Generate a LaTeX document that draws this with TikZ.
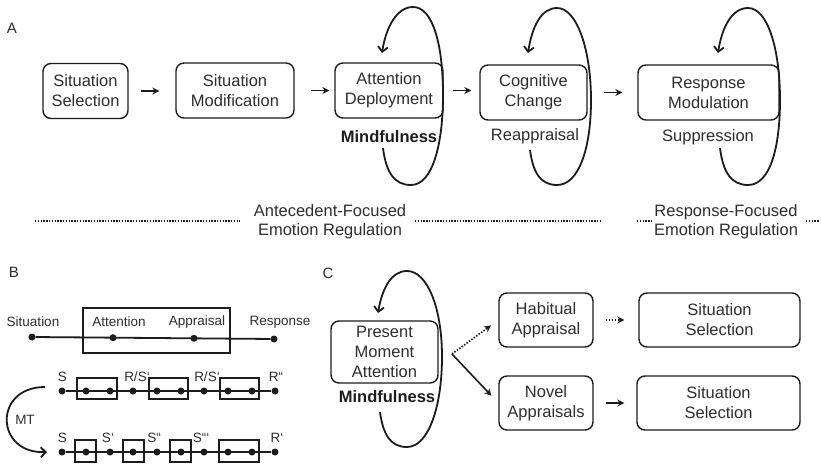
\documentclass[tikz,border=0pt]{standalone}
\usepackage{fontspec}
\setmainfont{Liberation Sans}
\usetikzlibrary{arrows.meta}
\definecolor{ink}{HTML}{1C1C1C}
\definecolor{txt}{HTML}{2E2E2E}

\begin{document}
\begin{tikzpicture}[x=1pt,y=-1pt,
  stage/.style={draw=ink, line width=1.4pt, rounded corners=8pt, align=center, text=txt,
    font=\fontsize{16.5}{20}\selectfont, inner sep=0pt, minimum height=55pt},
  lbl/.style={text=txt, font=\fontsize{16.5}{19}\selectfont, align=center, inner sep=0pt},
  mind/.style={text=ink, font=\fontsize{16.5}{19}\selectfont\bfseries, inner sep=0pt},
  panellbl/.style={text=txt, font=\fontsize{15}{16}\selectfont, inner sep=0pt},
  blabel/.style={text=txt, font=\fontsize{13.5}{15}\selectfont, inner sep=0pt},
  fwd/.style={draw=ink, line width=1.6pt, -{Stealth[length=7pt,width=7pt]}},
  selfloop/.style={draw=ink, line width=1.8pt, -{Straight Barb[length=5pt,width=10pt]}},
  dotline/.style={draw=ink, line width=1.5pt, dash pattern=on 1.3pt off 1.5pt},
  dot/.style={circle, fill=ink, inner sep=0pt, minimum size=7pt},
  boxframe/.style={draw=ink, line width=1.4pt, inner sep=0pt},
  track/.style={draw=ink, line width=1.8pt},
]
\fill[white] (0,0) rectangle (821,470);
\useasboundingbox (0,0) rectangle (821,470);

% ---------------- Panel A: process model ----------------
\node[panellbl] (pA) at (12,28) {A};
\node[stage, minimum width=85pt]  (ss) at (85.5,91)   {Situation\\Selection};
\node[stage, minimum width=118pt] (sm) at (235,90.5)  {Situation\\Modification};
\node[stage, minimum width=108pt] (ad) at (389,90.5)  {Attention\\Deployment};
\node[stage, minimum width=107pt] (cc) at (533.5,92.5) {Cognitive\\Change};
\node[stage, minimum width=141pt] (rm) at (708.5,92.5) {Response\\Modulation};

\draw[fwd, shorten <=12pt, shorten >=16pt] (ss.east) -- (ss.east -| sm.west);
\draw[fwd, shorten <=16pt, shorten >=5pt]  (sm.east) -- (sm.east -| ad.west);
\draw[fwd, shorten <=9pt,  shorten >=8pt]  (ad.east) -- (ad.east -| cc.west);
\draw[fwd, shorten <=16pt, shorten >=15pt] (cc.east) -- (cc.east -| rm.west);

\node[mind] (mf1) at (389,137) {Mindfulness};
\node[lbl]  (reap) at (535,136) {Reappraisal};
\node[lbl]  (supp) at (708,137) {Suppression};

% feedback loops around the strategies
\coordinate (l1s) at (383,148); \coordinate (l1e) at (382,53);
\draw[selfloop] (l1s) .. controls +(3,24) and +(-17,0) .. (411,185)
  .. controls +(22,0) and +(0,48) .. (443,95)
  .. controls +(0,-50) and +(20,0) .. (413,7)
  .. controls +(-16,0) and +(4,-26) .. (l1e);
\coordinate (l2s) at (530,150); \coordinate (l2e) at (528,53);
\draw[selfloop] (l2s) .. controls +(3,22) and +(-17,0) .. (557,185)
  .. controls +(22,0) and +(0,48) .. (591,100)
  .. controls +(0,-50) and +(20,0) .. (557,8)
  .. controls +(-16,0) and +(4,-26) .. (l2e);
\coordinate (l3s) at (720,148); \coordinate (l3e) at (718,53);
\draw[selfloop] (l3s) .. controls +(3,24) and +(-17,0) .. (748,185)
  .. controls +(22,0) and +(0,48) .. (780,100)
  .. controls +(0,-50) and +(20,0) .. (748,8)
  .. controls +(-16,0) and +(4,-26) .. (l3e);

% regulation families
\node[lbl] (afer) at (330,222) {Antecedent-Focused\\Emotion Regulation};
\node[lbl] (rfer) at (726,222) {Response-Focused\\Emotion Regulation};
\coordinate (d1a) at (35,221);  \coordinate (d1b) at (240,221);
\coordinate (d2a) at (415,221); \coordinate (d2b) at (600,221);
\coordinate (d3a) at (637,221); \coordinate (d3b) at (653,221);
\coordinate (d4a) at (806,221); \coordinate (d4b) at (819,221);
\draw[dotline] (d1a) -- (d1b);
\draw[dotline] (d2a) -- (d2b);
\draw[dotline] (d3a) -- (d3b);
\draw[dotline] (d4a) -- (d4b);

% ---------------- Panel B: sequences ----------------
\node[panellbl] (pB) at (14,272) {B};
\node[blabel] (tsit) at (33,322)  {Situation};
\node[blabel] (tatt) at (119,322) {Attention};
\node[blabel] (tapp) at (197,322) {Appraisal};
\node[blabel] (tres) at (280,322) {Response};
\node[dot] (b1) at (32,337) {};
\node[dot] (b2) at (113,337.7) {};
\node[dot] (b3) at (194,338.3) {};
\node[dot] (b4) at (274,339) {};
\draw[track] (b1) -- (b4);
\node[boxframe, minimum width=147pt, minimum height=45pt] (win) at (156.5,330.5) {};

% habitual chain
\foreach \i/\x in {1/62,2/86,3/110,4/133,5/157,6/181,7/204,8/228,9/252,10/275}
  \node[dot] (r\i) at (\x,391) {};
\draw[track] (r1) -- (r10);
\node[boxframe, minimum width=40pt, minimum height=21pt] (w1) at (97,388.5) {};
\node[boxframe, minimum width=39pt, minimum height=21pt] (w2) at (168.5,388.5) {};
\node[boxframe, minimum width=39pt, minimum height=21pt] (w3) at (239.5,388.5) {};
\node[blabel] (ra) at (62.5,377) {S};
\node[blabel] (rb) at (137,377) {R/S‘};
\node[blabel] (rc) at (207,377) {R/S‘};
\node[blabel] (rd) at (276,377) {R“};

% chain after training
\foreach \i/\x in {1/62,2/86,3/110,4/133,5/157,6/181,7/204,8/228,9/252,10/275}
  \node[dot] (q\i) at (\x,452) {};
\draw[track] (q1) -- (q10);
\node[boxframe, minimum width=21pt, minimum height=22pt] (v1) at (85.5,451) {};
\node[boxframe, minimum width=21pt, minimum height=22pt] (v2) at (133.5,451) {};
\node[boxframe, minimum width=21pt, minimum height=22pt] (v3) at (180.5,451) {};
\node[boxframe, minimum width=40pt, minimum height=22pt] (v4) at (239,451) {};
\node[blabel] (qa) at (62.5,438) {S};
\node[blabel] (qb) at (108,438) {S‘};
\node[blabel] (qc) at (154,438) {S“};
\node[blabel] (qd) at (201,438) {S“‘};
\node[blabel] (qe) at (277,438) {R‘};

\coordinate (mt1) at (45,387); \coordinate (mt2) at (47,452);
\draw[selfloop] (mt1) .. controls +(-52,0) and +(-52,2) .. (mt2);
\node[blabel] (mt) at (25,420) {MT};

% ---------------- Panel C: mindfulness pathway ----------------
\node[panellbl] (pC) at (328,273) {C};
\node[stage, minimum width=107pt, minimum height=62pt] (pma) at (384.5,352) {Present\\Moment\\Attention};
\node[mind] (mf2) at (387,397) {Mindfulness};
\coordinate (l4s) at (380,412); \coordinate (l4e) at (378,313);
\draw[selfloop] (l4s) .. controls +(3,22) and +(-17,0) .. (407,447)
  .. controls +(22,0) and +(0,48) .. (442,357)
  .. controls +(0,-50) and +(20,0) .. (407,271)
  .. controls +(-16,0) and +(4,-24) .. (l4e);

\node[stage, minimum width=94pt,  minimum height=54pt] (hab)  at (546,320)   {Habitual\\Appraisal};
\node[stage, minimum width=161pt, minimum height=54pt] (sel1) at (719.5,320) {Situation\\Selection};
\node[stage, minimum width=94pt,  minimum height=54pt] (nov)  at (546,403)   {Novel\\Appraisals};
\node[stage, minimum width=163pt, minimum height=54pt] (sel2) at (718.5,403) {Situation\\Selection};

\coordinate (fork) at (452,354);
\draw[fwd, dash pattern=on 1.5pt off 1.5pt, shorten >=9pt] (fork) -- (hab.west);
\draw[fwd, shorten >=10pt] (fork) -- (nov.west);
\draw[fwd, dash pattern=on 1.5pt off 1.5pt, shorten <=12pt, shorten >=14pt] (hab.east) -- (sel1.west);
\draw[fwd, shorten <=12pt, shorten >=12pt] (nov.east) -- (sel2.west);
\end{tikzpicture}
\end{document}
